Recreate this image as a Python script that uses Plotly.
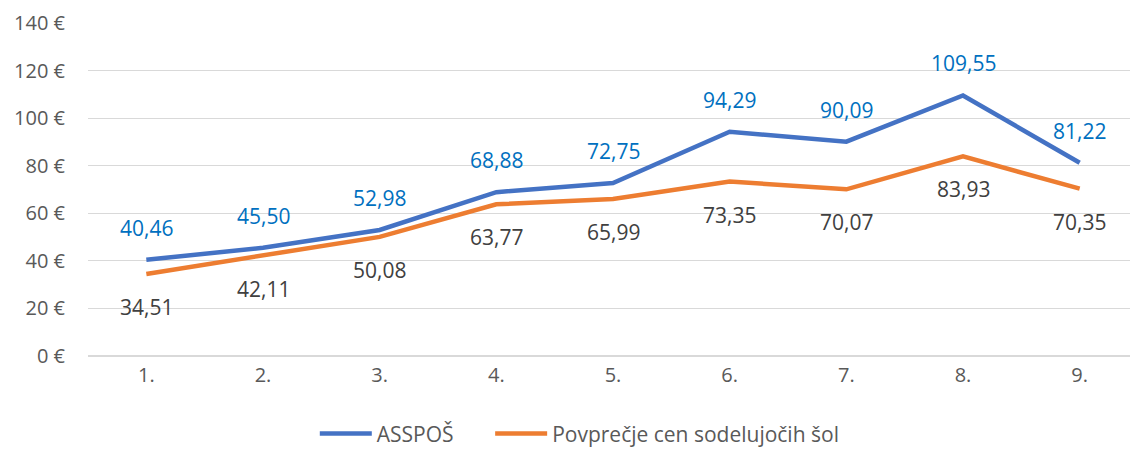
import plotly.graph_objects as go

categories = ["1.", "2.", "3.", "4.", "5.", "6.", "7.", "8.", "9."]
asspos = [40.46, 45.50, 52.98, 68.88, 72.75, 94.29, 90.09, 109.55, 81.22]
povprecje = [34.51, 42.11, 50.08, 63.77, 65.99, 73.35, 70.07, 83.93, 70.35]
series_names = ["ASSPOŠ", "Povprečje cen sodelujočih šol"]
y_ticks = [0, 20, 40, 60, 80, 100, 120, 140]

FONT = "Open Sans"
BLUE = "#4472C4"
ORANGE = "#ED7D31"

def fmt(v):
    return f"{v:.2f}".replace(".", ",")

fig = go.Figure()
fig.add_trace(go.Scatter(x=categories, y=asspos, mode="lines", name=series_names[0],
                         line=dict(color=BLUE, width=4.5), legend="legend"))
fig.add_trace(go.Scatter(x=categories, y=povprecje, mode="lines", name=series_names[1],
                         line=dict(color=ORANGE, width=4.5), legend="legend2"))

for i, v in enumerate(asspos):
    fig.add_annotation(x=i, y=v, text=fmt(v), showarrow=False, yshift=32,
                       font=dict(family=FONT, size=21, color="#0070C0"))
for i, v in enumerate(povprecje):
    fig.add_annotation(x=i, y=v, text=fmt(v), showarrow=False, yshift=-33,
                       font=dict(family=FONT, size=21, color="#404040"))

legend_common = dict(orientation="h", xanchor="left", y=-0.234, yanchor="middle",
                     font=dict(family=FONT, size=21, color="#595959"),
                     itemwidth=52, bgcolor="rgba(0,0,0,0)")

fig.update_layout(
    width=1130, height=447,
    margin=dict(l=80, r=0, t=15, b=90),
    plot_bgcolor="white", paper_bgcolor="white",
    font=dict(family=FONT, size=20, color="#595959"),
    showlegend=True,
    legend=dict(x=0.216, **legend_common),
    legend2=dict(x=0.383, **legend_common),
    xaxis=dict(type="category", range=[-0.5, 8.5], showgrid=False, showline=False,
               automargin=False,
               ticks="", tickfont=dict(size=20, color="#595959"), ticklabelstandoff=5),
    yaxis=dict(range=[0, 140], tickvals=y_ticks, automargin=False,
               ticktext=[f"{t} €" for t in y_ticks],
               showgrid=True, gridcolor="#D9D9D9", gridwidth=1.3,
               zeroline=True, zerolinecolor="#D9D9D9", zerolinewidth=2,
               ticks="", ticklabelstandoff=22, tickfont=dict(size=20, color="#595959")),
)

fig.write_html("out.html")
